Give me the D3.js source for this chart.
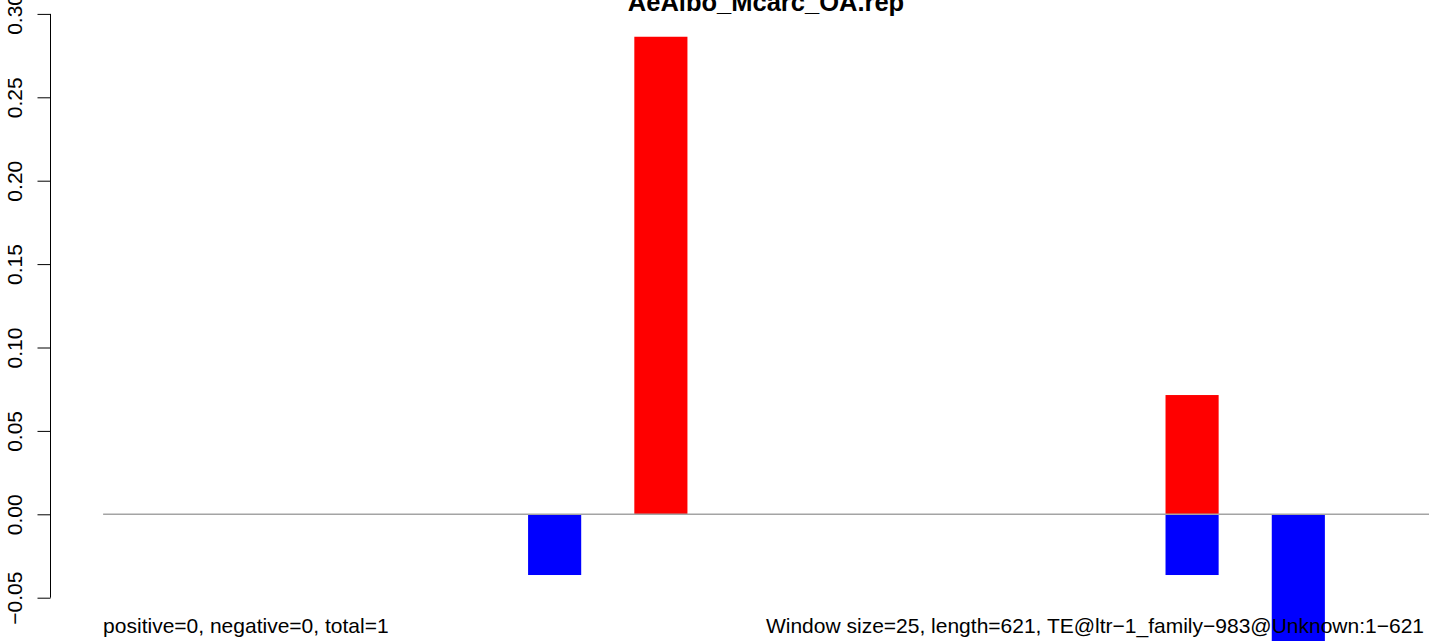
<!DOCTYPE html>
<html>
<head>
<meta charset="utf-8">
<script src="https://cdn.jsdelivr.net/npm/d3@7"></script>
<style>
  html, body { margin: 0; padding: 0; background: #fff; }
  svg { display: block; font-family: "Liberation Sans", Arial, sans-serif; }
</style>
</head>
<body>
<svg id="chart" width="1429" height="641"></svg>
<script>
// ---- data ----
const title = "AeAlbo_Mcarc_OA.rep";
const windows = [1, 2, 3, 4, 5, 6, 7, 8, 9, 10, 11, 12, 13];
const positiveValues = [0, 0, 0, 0, 0, 0.2863, 0, 0, 0, 0, 0.0715, 0, 0];
const negativeValues = [0, 0, 0, 0, -0.0364, 0, 0, 0, 0, 0, -0.0364, -0.080, 0];
const yTicks = [-0.05, 0.00, 0.05, 0.10, 0.15, 0.20, 0.25, 0.30];
const leftNote = "positive=0, negative=0, total=1";
const rightNote = "Window size=25, length=621, TE@ltr\u22121_family\u2212983@Unknown:1\u2212621";

// ---- layout ----
const W = 1429, H = 641;
const svg = d3.select("#chart");
const unitPx = 53.12;
const plotLeft = 50;
const x = d3.scaleLinear().domain([0, 2 * windows.length + 1]).range([plotLeft, plotLeft + (2 * windows.length + 1) * unitPx]);
const y = d3.scaleLinear().domain([-0.05, 0.30]).range([597.7, 13.9]);
const barLeft = i => x(2 * i + 1);
const barRight = i => x(2 * i + 2);

const data = windows.map((w, i) => ({ w, i, pos: positiveValues[i], neg: negativeValues[i] }));

// negative bars (blue)
svg.append("g").selectAll("rect").data(data.filter(d => d.neg !== 0)).join("rect")
  .attr("x", d => barLeft(d.i))
  .attr("width", d => barRight(d.i) - barLeft(d.i))
  .attr("y", y(0))
  .attr("height", d => y(d.neg) - y(0))
  .attr("fill", "#0000ff");

// positive bars (red)
svg.append("g").selectAll("rect").data(data.filter(d => d.pos !== 0)).join("rect")
  .attr("x", d => barLeft(d.i))
  .attr("width", d => barRight(d.i) - barLeft(d.i))
  .attr("y", d => y(d.pos))
  .attr("height", d => y(0) - y(d.pos))
  .attr("fill", "#ff0000");

// zero line
svg.append("line")
  .attr("x1", barLeft(0)).attr("x2", barRight(windows.length - 1))
  .attr("y1", y(0)).attr("y2", y(0))
  .attr("stroke", "#a4a4a4").attr("stroke-width", 1.5);

// y axis
const fmt = v => (v < 0 ? "\u2212" : "") + Math.abs(v).toFixed(2);
const axis = d3.axisLeft(y).tickValues(yTicks).tickFormat(fmt).tickSize(13).tickSizeOuter(0);
const ag = svg.append("g").attr("transform", `translate(${plotLeft + 0.5},0)`).call(axis);
ag.select(".domain").attr("stroke", "#000").attr("stroke-width", 1)
  .attr("d", `M0,${y(yTicks[0])}V${y(yTicks[yTicks.length - 1])}`);
ag.selectAll(".tick line").attr("stroke", "#000").attr("stroke-width", 1);
ag.selectAll(".tick text")
  .attr("font-family", "Liberation Sans, Arial, sans-serif")
  .attr("font-size", 21)
  .attr("fill", "#000")
  .attr("text-anchor", "middle")
  .attr("dy", null)
  .attr("x", null)
  .attr("transform", `translate(${22 - plotLeft - 0.5},0) rotate(-90)`);

// title
svg.append("text")
  .attr("x", 766).attr("y", 11)
  .attr("text-anchor", "middle")
  .attr("font-weight", "bold")
  .attr("font-size", 25.5)
  .attr("fill", "#000")
  .text(title);

// bottom notes
svg.append("text")
  .attr("x", barLeft(0)).attr("y", 633)
  .attr("font-size", 21).attr("fill", "#000")
  .text(leftNote);
svg.append("text")
  .attr("x", 1424).attr("y", 633)
  .attr("text-anchor", "end")
  .attr("font-size", 21).attr("fill", "#000")
  .text(rightNote);
</script>
</body>
</html>
